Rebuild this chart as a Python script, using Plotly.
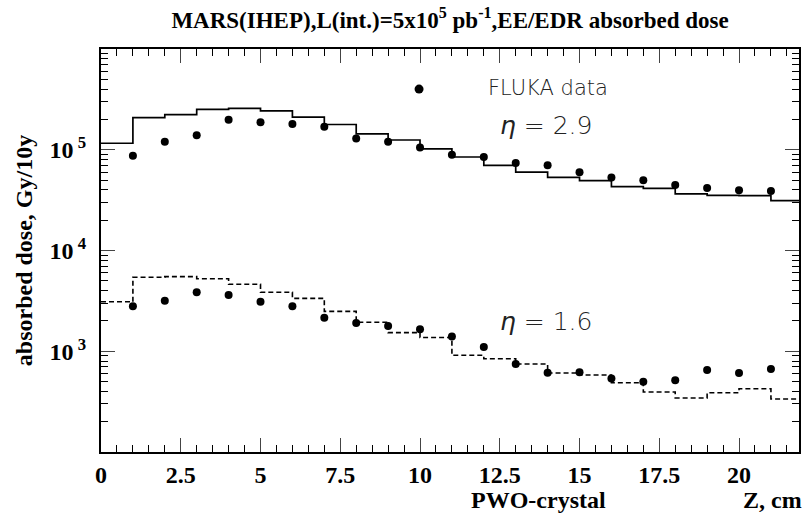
import plotly.graph_objects as go

# ---- data ----
bin_edges = list(range(0, 23))  # histogram bin edges (cm)
mars_eta29 = [1.16e5, 2.08e5, 2.23e5, 2.52e5, 2.58e5, 2.43e5, 2.11e5, 1.78e5,
              1.44e5, 1.25e5, 1.02e5, 8.47e4, 7.0e4, 6.0e4, 5.33e4, 4.93e4,
              4.30e4, 4.14e4, 3.64e4, 3.53e4, 3.50e4, 3.12e4]
mars_eta16 = [3.10e3, 5.42e3, 5.50e3, 5.25e3, 4.62e3, 3.85e3, 3.35e3, 2.49e3,
              1.94e3, 1.53e3, 1.37e3, 912, 843, 747, 608, 581,
              487, 394, 344, 388, 425, 336]
fluka_z = list(range(1, 22))
fluka_eta29 = [8.73e4, 1.20e5, 1.39e5, 1.99e5, 1.88e5, 1.80e5, 1.69e5, 1.29e5,
               1.20e5, 1.05e5, 8.93e4, 8.47e4, 7.38e4, 7.0e4, 5.97e4, 5.29e4,
               4.98e4, 4.47e4, 4.17e4, 3.96e4, 3.89e4]
fluka_eta16 = [2.79e3, 3.18e3, 3.85e3, 3.61e3, 3.10e3, 2.79e3, 2.15e3, 1.91e3,
               1.78e3, 1.65e3, 1.40e3, 1.10e3, 747, 612, 618, 535,
               499, 514, 652, 608, 667]
legend_marker_x = [9.97]
legend_marker_y = [4.0e5]
x_tickvals = [0, 2.5, 5, 7.5, 10, 12.5, 15, 17.5, 20]
x_ticktext = ["<b>0</b>", "<b>2.5</b>", "<b>5</b>", "<b>7.5</b>", "<b>10</b>",
              "<b>12.5</b>", "<b>15</b>", "<b>17.5</b>", "<b>20</b>"]
y_tickvals = [1e3, 1e4, 1e5]
y_ticktext = ["<b>10<sup> 3</sup></b>", "<b>10<sup> 4</sup></b>", "<b>10<sup> 5</sup></b>"]

TIMES = "Liberation Serif, Times New Roman, serif"
SANS = "DejaVu Sans, sans-serif"

fig = go.Figure()

def step(vals):
    return vals + [vals[-1]]

fig.add_trace(go.Scatter(x=bin_edges, y=step(mars_eta29), mode="lines",
                         line=dict(shape="hv", color="black", width=1.7),
                         showlegend=False))
fig.add_trace(go.Scatter(x=bin_edges, y=step(mars_eta16), mode="lines",
                         line=dict(shape="hv", color="black", width=1.6, dash="5px,3px"),
                         showlegend=False))
fig.add_trace(go.Scatter(x=fluka_z, y=fluka_eta29, mode="markers",
                         marker=dict(color="black", size=8), showlegend=False))
fig.add_trace(go.Scatter(x=fluka_z, y=fluka_eta16, mode="markers",
                         marker=dict(color="black", size=8), showlegend=False))
fig.add_trace(go.Scatter(x=legend_marker_x, y=legend_marker_y, mode="markers",
                         marker=dict(color="black", size=9), showlegend=False))

minor_y = [m * 10 ** e for e in range(2, 6) for m in range(2, 10)]

fig.update_layout(
    width=809, height=519,
    margin=dict(l=101, r=8, t=49, b=67),
    plot_bgcolor="white", paper_bgcolor="white",
    title=dict(text="<b>MARS(IHEP),L(int.)=5x10<sup>5</sup> pb<sup>-1</sup>,EE/EDR absorbed dose</b>",
               x=0.5, xref="paper", xanchor="center", y=0.962, yref="container", yanchor="middle",
               font=dict(family=TIMES, size=23, color="black")),
    xaxis=dict(range=[0, 21.88], showgrid=False, zeroline=False,
               showline=True, linewidth=2, linecolor="black", mirror="allticks",
               ticks="inside", ticklen=14, tickwidth=1, tickcolor="#444",
               tickvals=x_tickvals, ticktext=x_ticktext, ticklabelstandoff=0,
               tickfont=dict(family=TIMES, size=24, color="black")),
    yaxis=dict(type="log", range=[2, 6], showgrid=False, zeroline=False,
               showline=True, linewidth=2, linecolor="black", mirror="allticks",
               ticks="inside", ticklen=14, tickwidth=1, tickcolor="#444",
               tickvals=y_tickvals, ticktext=y_ticktext, ticklabelstandoff=8,
               tickfont=dict(family=TIMES, size=24, color="black"),
               title=dict(text="<b>absorbed dose, Gy/10y</b>", standoff=10,
                          font=dict(family=TIMES, size=24, color="black"))),
)
fig.update_xaxes(minor=dict(ticks="inside", ticklen=7, tickwidth=1, tickcolor="black",
                            dtick=0.5, tick0=0, showgrid=False))
fig.update_yaxes(minor=dict(ticks="inside", ticklen=7, tickwidth=1, tickcolor="black",
                            tickvals=minor_y, showgrid=False))

fig.add_annotation(text="FLUKA data", xref="paper", yref="paper",
                   x=(487 - 101) / 700, y=(452 - 88) / 403, xanchor="left", yanchor="middle",
                   showarrow=False, font=dict(family=SANS, size=21, color="#222", weight=300))
fig.add_annotation(text="<i>η</i> = 2.9", xref="paper", yref="paper",
                   x=(547 - 101) / 700, y=(452 - 125) / 403, xanchor="center", yanchor="middle",
                   showarrow=False, font=dict(family=SANS, size=25, color="#222", weight=300))
fig.add_annotation(text="<i>η</i> = 1.6", xref="paper", yref="paper",
                   x=(547 - 101) / 700, y=(452 - 321) / 403, xanchor="center", yanchor="middle",
                   showarrow=False, font=dict(family=SANS, size=25, color="#222", weight=300))
fig.add_annotation(text="<b>PWO-crystal</b>", xref="paper", yref="paper",
                   x=(540 - 101) / 700, y=-(500 - 452) / 403, xanchor="center", yanchor="middle",
                   showarrow=False, font=dict(family=TIMES, size=24, color="black"))
fig.add_annotation(text="<b>Z, cm</b>", xref="paper", yref="paper",
                   x=(806 - 101) / 700, y=-(500 - 452) / 403, xanchor="right", yanchor="middle",
                   showarrow=False, font=dict(family=TIMES, size=24, color="black"))

fig.write_html("out.html")
